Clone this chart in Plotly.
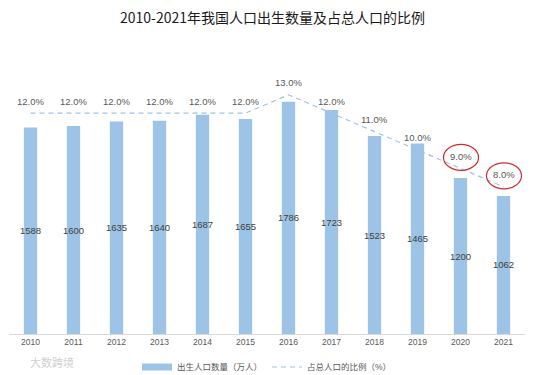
import plotly.graph_objects as go

years = [2010, 2011, 2012, 2013, 2014, 2015, 2016, 2017, 2018, 2019, 2020, 2021]
births = [1588, 1600, 1635, 1640, 1687, 1655, 1786, 1723, 1523, 1465, 1200, 1062]
ratio = [12.0, 12.0, 12.0, 12.0, 12.0, 12.0, 13.0, 12.0, 11.0, 10.0, 9.0, 8.0]
circled_years = [2020, 2021]

title_text = "2010-2021年我国人口出生数量及占总人口的比例"
bar_name = "出生人口数量（万人）"
line_name = "占总人口的比例（%）"
watermark = "大数跨境"

BLUE = "#9dc3e6"
FONT = "Liberation Sans, Arial, Noto Sans CJK SC"

W, H = 545, 375
ML, MR, MT, MB = 9, 20, 60, 41
PW, PH = W - ML - MR, H - MT - MB

fig = go.Figure()

fig.add_trace(go.Bar(
    x=years, y=births, width=0.31,
    marker=dict(color=BLUE, line=dict(width=0)),
    text=[str(v) for v in births],
    textposition="inside", insidetextanchor="middle", textangle=0,
    constraintext="none",
    textfont=dict(size=9.5, color="#404040", family=FONT),
    showlegend=False, hoverinfo="skip",
))

# legend proxy for the bar series (wide swatch)
fig.add_trace(go.Scatter(
    x=[None], y=[None], mode="lines",
    line=dict(color=BLUE, width=7),
    name=bar_name,
))

fig.add_trace(go.Scatter(
    x=years, y=ratio, yaxis="y2", mode="lines",
    line=dict(color=BLUE, width=1.2, dash="5px,4px"),
    name=line_name, hoverinfo="skip",
))

annotations = []
for yr, r in zip(years, ratio):
    annotations.append(dict(
        x=yr, y=r, xref="x", yref="y2", text=f"{r:.1f}%",
        showarrow=False, yanchor="middle", yshift=12,
        font=dict(size=9.5, color="#595959", family=FONT),
    ))

annotations.append(dict(
    x=(28 - ML) / PW, y=(H - MB - 362) / PH, xref="paper", yref="paper",
    text=watermark, showarrow=False, xanchor="left", yanchor="middle",
    font=dict(size=11, color="#d0d0d0", family="Noto Sans CJK SC"),
))

shapes = []
for yr in circled_years:
    r = ratio[years.index(yr)]
    shapes.append(dict(
        type="circle", xref="x", yref="y2",
        xsizemode="pixel", ysizemode="pixel",
        xanchor=yr, yanchor=r,
        x0=-17, x1=18, y0=-2, y1=24,
        line=dict(color="#d42a2a", width=1.2),
    ))

fig.update_layout(
    width=W, height=H,
    margin=dict(l=ML, r=MR, t=MT, b=MB, autoexpand=False),
    paper_bgcolor="white", plot_bgcolor="white",
    title=dict(text=title_text, x=0.5, xref="container", xanchor="center",
               y=1 - 18 / H, yref="container", yanchor="middle",
               font=dict(size=14, color="#1a1a1a", family="Noto Sans CJK SC")),
    xaxis=dict(range=[2009.5, 2021.5], tickvals=years, ticktext=[str(y) for y in years],
               showgrid=False, zeroline=False, showline=True, linecolor="#d9d9d9",
               linewidth=1, ticks="", tickfont=dict(size=8.5, color="#595959", family=FONT)),
    yaxis=dict(range=[0, 2108], visible=False, showgrid=False),
    yaxis2=dict(range=[0, 14.89], overlaying="y", visible=False, showgrid=False),
    legend=dict(orientation="h", x=0.5, xanchor="center", y=-0.0675, yanchor="top",
                font=dict(size=8.5, color="#595959", family=FONT),
                bgcolor="rgba(0,0,0,0)"),
    annotations=annotations,
    shapes=shapes,
    showlegend=True,
)

fig.write_html("out.html",
               config={"displayModeBar": False},
               post_script="document.body.style.margin='0';document.body.style.overflow='hidden';")
